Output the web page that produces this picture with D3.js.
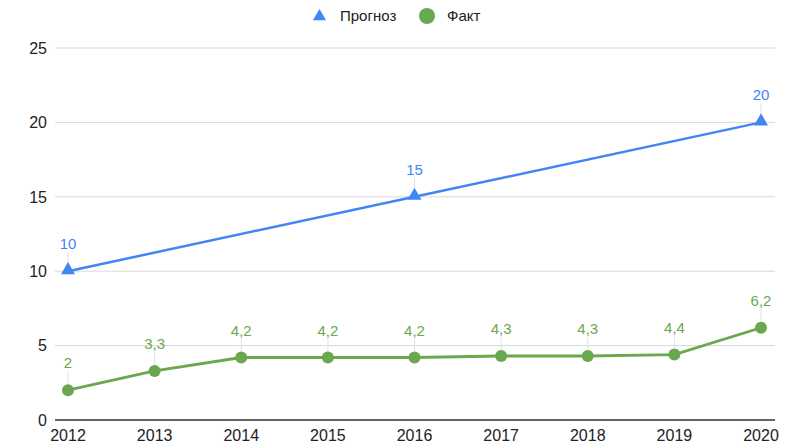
<!DOCTYPE html>
<html>
<head>
<meta charset="utf-8">
<script src="https://cdn.jsdelivr.net/npm/d3@7"></script>
<style>
  body { margin: 0; background: #fff; }
  text { font-family: Arial, "Liberation Sans", sans-serif; }
</style>
</head>
<body>
<div id="chart"></div>
<script>
// data
const years = ["2012", "2013", "2014", "2015", "2016", "2017", "2018", "2019", "2020"];
const forecastYears = ["2012", "2016", "2020"];
const forecastValues = [10, 15, 20];
const factValues = [2, 3.3, 4.2, 4.2, 4.2, 4.3, 4.3, 4.4, 6.2];
const yTicks = [0, 5, 10, 15, 20, 25];

const width = 792;
const height = 443;
const blue = "#4285f4";
const green = "#6aa84f";

const svg = d3.select("#chart").append("svg")
  .attr("width", width)
  .attr("height", height);

// scales
const x = d3.scalePoint()
  .domain(years)
  .range([68, 761]);

const y = d3.scaleLinear()
  .domain([0, 25])
  .range([420, 48]);

const fmt = v => String(v).replace(".", ",");

// grid
svg.append("g")
  .selectAll("line")
  .data(yTicks)
  .join("line")
  .attr("x1", 55)
  .attr("x2", 775)
  .attr("y1", d => y(d))
  .attr("y2", d => y(d))
  .attr("stroke", d => d === 0 ? "#333" : "#d9d9d9")
  .attr("stroke-width", d => d === 0 ? 1.3 : 1);

// y labels
svg.append("g")
  .selectAll("text")
  .data(yTicks)
  .join("text")
  .attr("x", 47)
  .attr("y", d => y(d))
  .attr("dy", "0.36em")
  .attr("text-anchor", "end")
  .attr("font-size", 16)
  .attr("fill", "#222")
  .text(d => d);

// x labels
svg.append("g")
  .selectAll("text")
  .data(years)
  .join("text")
  .attr("x", d => x(d))
  .attr("y", 441)
  .attr("text-anchor", "middle")
  .attr("font-size", 16)
  .attr("fill", "#222")
  .text(d => d);

const forecast = forecastYears.map((d, i) => ({ year: d, value: forecastValues[i] }));
const fact = years.map((d, i) => ({ year: d, value: factValues[i] }));

const line = d3.line()
  .x(d => x(d.year))
  .y(d => y(d.value));

// leader lines + data labels
function addLabels(data, colour) {
  const g = svg.append("g");
  g.selectAll("line")
    .data(data)
    .join("line")
    .attr("x1", d => x(d.year))
    .attr("x2", d => x(d.year))
    .attr("y1", d => y(d.value))
    .attr("y2", d => y(d.value) - 19)
    .attr("stroke", "#e0e0e0")
    .attr("stroke-width", 1);
  g.selectAll("text")
    .data(data)
    .join("text")
    .attr("x", d => x(d.year))
    .attr("y", d => y(d.value) - 22)
    .attr("text-anchor", "middle")
    .attr("font-size", 15)
    .attr("fill", colour)
    .text(d => fmt(d.value));
}

addLabels(forecast, blue);
addLabels(fact, green);

// lines
svg.append("path")
  .datum(forecast)
  .attr("fill", "none")
  .attr("stroke", blue)
  .attr("stroke-width", 2.5)
  .attr("d", line);

svg.append("path")
  .datum(fact)
  .attr("fill", "none")
  .attr("stroke", green)
  .attr("stroke-width", 2.8)
  .attr("d", line);

// markers
const tri = d3.symbol().type(d3.symbolTriangle).size(85);
svg.append("g")
  .selectAll("path")
  .data(forecast)
  .join("path")
  .attr("transform", d => `translate(${x(d.year)},${y(d.value) - 1})`)
  .attr("d", tri)
  .attr("fill", blue);

svg.append("g")
  .selectAll("circle")
  .data(fact)
  .join("circle")
  .attr("cx", d => x(d.year))
  .attr("cy", d => y(d.value))
  .attr("r", 6)
  .attr("fill", green);

// legend
const legend = svg.append("g");
legend.append("path")
  .attr("transform", "translate(319.5,16.5)")
  .attr("d", d3.symbol().type(d3.symbolTriangle).size(75))
  .attr("fill", blue);
legend.append("text")
  .attr("x", 340)
  .attr("y", 16)
  .attr("dy", "0.36em")
  .attr("font-size", 15)
  .attr("fill", "#222")
  .text("Прогноз");
legend.append("circle")
  .attr("cx", 427)
  .attr("cy", 16)
  .attr("r", 8)
  .attr("fill", green);
legend.append("text")
  .attr("x", 447)
  .attr("y", 16)
  .attr("dy", "0.36em")
  .attr("font-size", 15)
  .attr("fill", "#222")
  .text("Факт");
</script>
</body>
</html>
